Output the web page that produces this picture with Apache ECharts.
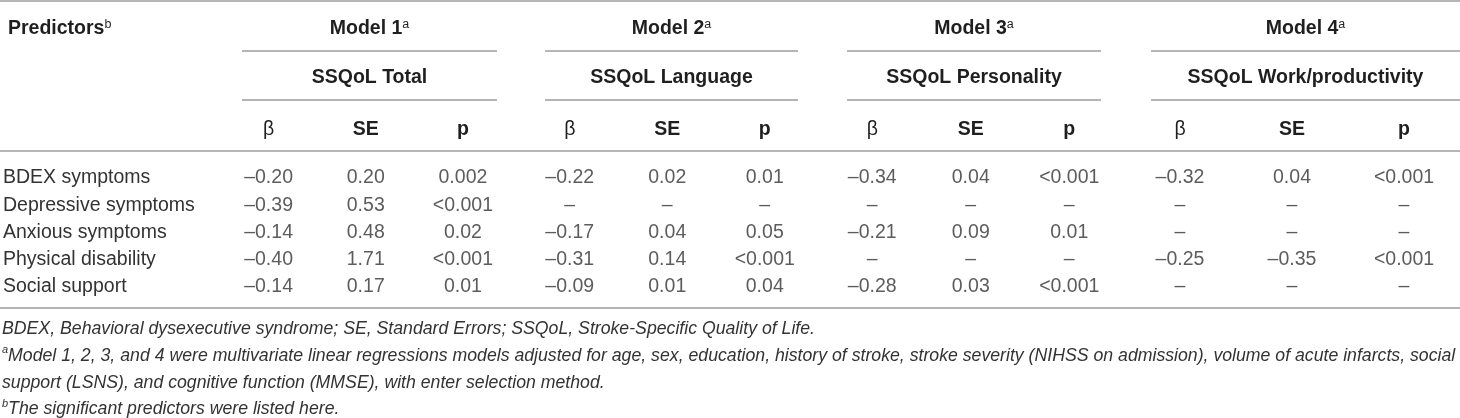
<!DOCTYPE html>
<html>
<head>
<meta charset="utf-8">
<script src="https://cdn.jsdelivr.net/npm/echarts@6/dist/echarts.min.js"></script>
<style>
html, body { margin: 0; padding: 0; background: #fff; }
#main { width: 1460px; height: 418px; }
</style>
</head>
<body>
<div id="main"></div>
<script>
var predictors = ['BDEX symptoms', 'Depressive symptoms', 'Anxious symptoms', 'Physical disability', 'Social support'];
var models = ['Model 1', 'Model 2', 'Model 3', 'Model 4'];
var outcomes = ['SSQoL Total', 'SSQoL Language', 'SSQoL Personality', 'SSQoL Work/productivity'];
var statCols = ['β', 'SE', 'p'];

// one entry per predictor, null = predictor not in that model
var beta1 = [-0.20, -0.39, -0.14, -0.40, -0.14];
var se1 = [0.20, 0.53, 0.48, 1.71, 0.17];
var p1 = ['0.002', '<0.001', '0.02', '<0.001', '0.01'];

var beta2 = [-0.22, null, -0.17, -0.31, -0.09];
var se2 = [0.02, null, 0.04, 0.14, 0.01];
var p2 = ['0.01', null, '0.05', '<0.001', '0.04'];

var beta3 = [-0.34, null, -0.21, null, -0.28];
var se3 = [0.04, null, 0.09, null, 0.03];
var p3 = ['<0.001', null, '0.01', null, '<0.001'];

var beta4 = [-0.32, null, null, -0.25, null];
var se4 = [0.04, null, null, -0.35, null];
var p4 = ['<0.001', null, null, '<0.001', null];

var notes = [
    'BDEX, Behavioral dysexecutive syndrome; SE, Standard Errors; SSQoL, Stroke-Specific Quality of Life.',
    '{s|a}{t|Model 1, 2, 3, and 4 were multivariate linear regressions models adjusted for age, sex, education, history of stroke, stroke severity (NIHSS on admission), volume of acute infarcts, social}',
    'support (LSNS), and cognitive function (MMSE), with enter selection method.',
    '{s|b}{t|The significant predictors were listed here.}'
];

var FONT = 'Liberation Sans';
var TXT = '#333333';
var HEAD = '#1f1f1f';
var RULE = '#9d9d9d';

// layout: grid left/width per model, underline span per model
var gridBox = [[219, 292.5], [521, 292.5], [823, 295.5], [1124, 354]];
var spans = [[242, 497], [545, 798], [847, 1101], [1151, 1460]];
var rowTop = 164.4, rowH = 136;

function num(v) {
    if (v === null) return '–';
    return (v < 0 ? '–' : '') + Math.abs(v).toFixed(2);
}

var columns = [[beta1, se1, p1], [beta2, se2, p2], [beta3, se3, p3], [beta4, se4, p4]];

var grids = [], xAxes = [], yAxes = [], series = [];
columns.forEach(function(cols, m) {
    grids.push({ left: gridBox[m][0], width: gridBox[m][1], top: rowTop, height: rowH });
    xAxes.push({
        type: 'category',
        gridIndex: m,
        position: 'top',
        data: statCols,
        axisLine: { show: false },
        axisTick: { show: false },
        splitLine: { show: false },
        axisLabel: {
            margin: 34.4,
            verticalAlign: 'middle',
            formatter: function(v) { return v === 'β' ? '{g|β}' : '{b|' + v + '}'; },
            rich: {
                g: { fontFamily: FONT, fontSize: 19.5, color: HEAD },
                b: { fontFamily: FONT, fontSize: 19.5, fontWeight: 'bold', color: HEAD }
            }
        }
    });
    yAxes.push({
        type: 'category',
        gridIndex: m,
        inverse: true,
        data: predictors,
        axisLine: { show: false },
        axisTick: { show: false },
        splitLine: { show: false },
        axisLabel: {
            show: m === 0,
            align: 'left',
            margin: gridBox[0][0] - 2,
            fontFamily: FONT,
            fontSize: 19.5,
            color: TXT
        }
    });
    var data = [];
    predictors.forEach(function(name, r) {
        data.push([0, r, num(cols[0][r])]);
        data.push([1, r, num(cols[1][r])]);
        data.push([2, r, cols[2][r] === null ? '–' : cols[2][r]]);
    });
    series.push({
        type: 'scatter',
        xAxisIndex: m,
        yAxisIndex: m,
        symbolSize: 0,
        silent: true,
        data: data,
        label: {
            show: true,
            position: 'inside',
            formatter: function(p) { return p.value[2]; },
            fontFamily: FONT,
            fontSize: 19.5,
            color: TXT
        }
    });
});

var graphics = [];
function rule(x1, x2, y) {
    graphics.push({ type: 'line', shape: { x1: x1, y1: y, x2: x2, y2: y }, style: { stroke: RULE, lineWidth: 1.6 }, silent: true });
}
function label(x, y, text, align, rich) {
    graphics.push({
        type: 'text', x: x, y: y, silent: true,
        style: { text: text, align: align, verticalAlign: 'middle', rich: rich }
    });
}
var headRich = {
    h: { fontFamily: FONT, fontSize: 19.5, fontWeight: 'bold', fill: HEAD, lineHeight: 22 },
    s: { fontFamily: FONT, fontSize: 12.5, fill: HEAD, verticalAlign: 'top', lineHeight: 22 }
};
rule(0, 1460, 1);
rule(0, 1460, 151);
rule(0, 1460, 308);
label(8, 29, '{h|Predictors}{s|b}', 'left', headRich);
models.forEach(function(name, m) {
    var cx = (spans[m][0] + spans[m][1]) / 2;
    rule(spans[m][0], spans[m][1], 51);
    rule(spans[m][0], spans[m][1], 100);
    label(cx, 29, '{h|' + name + '}{s|a}', 'center', headRich);
    label(cx, 78, '{h|' + outcomes[m] + '}', 'center', headRich);
});
var noteRich = {
    t: { fontFamily: FONT, fontSize: 17.7, fontStyle: 'italic', fill: TXT, lineHeight: 22 },
    s: { fontFamily: FONT, fontSize: 11, fontStyle: 'italic', fill: TXT, verticalAlign: 'top', lineHeight: 22 }
};
notes.forEach(function(line, i) {
    var txt = line.charAt(0) === '{' ? line : '{t|' + line + '}';
    label(2, 329 + i * 26.8, txt, 'left', noteRich);
});

var chart = echarts.init(document.getElementById('main'));
chart.setOption({
    animation: false,
    grid: grids,
    xAxis: xAxes,
    yAxis: yAxes,
    series: series,
    graphic: graphics
});
</script>
</body>
</html>
